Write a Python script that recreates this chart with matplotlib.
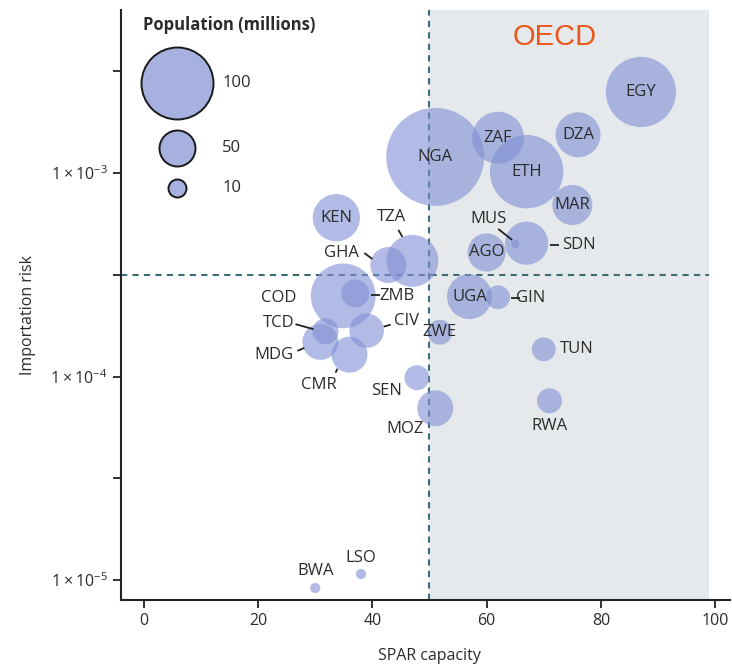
import numpy as np
import matplotlib
matplotlib.use("Agg")
import matplotlib.pyplot as plt
import matplotlib.transforms as mtransforms

plt.rcParams['font.family'] = ['Open Sans', 'DejaVu Sans']
plt.rcParams['mathtext.default'] = 'regular'

# country data
codes = ['EGY', 'DZA', 'ZAF', 'NGA', 'ETH', 'MAR', 'SDN', 'MUS', 'AGO', 'TZA',
         'UGA', 'GIN', 'KEN', 'GHA', 'COD', 'ZMB', 'CIV', 'TCD', 'MDG', 'CMR',
         'ZWE', 'SEN', 'MOZ', 'TUN', 'RWA', 'LSO', 'BWA']
spar = [87, 76, 62, 51, 67, 75, 67, 65, 60, 47,
        57, 62, 33.7, 42.8, 34.9, 37, 39, 31.8, 30.9, 36,
        51.8, 47.8, 51, 70, 71, 38, 30]
risk = [2.50e-3, 1.54e-3, 1.49e-3, 1.20e-3, 1.015e-3, 6.96e-4, 4.52e-4, 4.48e-4, 4.07e-4, 3.70e-4,
        2.47e-4, 2.45e-4, 6.03e-4, 3.53e-4, 2.49e-4, 2.56e-4, 1.68e-4, 1.67e-4, 1.48e-4, 1.28e-4,
        1.65e-4, 9.87e-5, 6.98e-5, 1.36e-4, 7.6e-5, 1.07e-5, 9.14e-6]
population = [95, 39, 52, 185, 104, 31, 36, 1.3, 28, 52,
              39, 11, 43, 25, 81, 15, 23, 13, 25, 25,
              12, 12, 25, 11, 12, 2, 2]

legend_vals = [100, 50, 10]

spar_threshold = 50
risk_threshold = 10 ** -3.5

# label offsets in pixels from bubble centre (image coords, y down)
label_off = {
    'TZA': (-21, -44), 'GHA': (-47, -12), 'MUS': (-27, -25), 'SDN': (52, 2),
    'GIN': (33, 1), 'ZMB': (42, 3), 'CIV': (40, -10), 'COD': (-65, 2),
    'TCD': (-47, -8), 'MDG': (-46, 13), 'CMR': (-31, 30), 'SEN': (-30, 13),
    'MOZ': (-30, 21), 'TUN': (33, 0), 'RWA': (0, 25), 'LSO': (0, -16),
    'BWA': (0, -17),
}
leaders = {
    'TZA': ((-14, -31), (-10, -24)), 'GHA': ((-24, -12), (-16, -6)),
    'MUS': ((-17, -15), (-3, -4)), 'SDN': ((23, 2), (32, 2)),
    'GIN': ((13, 1), (22, 1)), 'ZMB': ((16, 2), (25, 2)),
    'CIV': ((17, -4), (24, -6)), 'TCD': ((-30, -7), (-12, -2)),
    'MDG': ((-23, 9), (-16, 6)), 'CMR': ((-14, 18), (-12, 14)),
}

bubble_color = '#7f8fd4'
text_color = '#2b2b2b'
size_per_million = 26.9   # scatter area (pt^2) per million people

fig = plt.figure(figsize=(7.32, 6.68), dpi=100)
ax = fig.add_axes([121 / 732, 68 / 668, 609 / 732, 590 / 668])

ax.axvspan(spar_threshold, 99, color='#e5e9eb', zorder=0, lw=0)
ax.axvline(spar_threshold, color='#3d6c78', lw=1.5, ls=(0, (3, 2.5)), zorder=1)
ax.plot([-4, 99], [risk_threshold, risk_threshold], color='#3d6c78', lw=1.5,
        ls=(0, (3, 2.5)), zorder=1)

sizes = np.array(population) * size_per_million
ax.scatter(spar, risk, s=sizes, color=bubble_color, alpha=0.6, lw=0, zorder=2)

for code, x, y in zip(codes, spar, risk):
    dx, dy = label_off.get(code, (0, 0))
    ax.annotate(code, xy=(x, y), xytext=(dx, -dy), textcoords='offset pixels',
                ha='center', va='center', fontsize=12, color=text_color, zorder=4)
    if code in leaders:
        (x1, y1), (x2, y2) = leaders[code]
        trans = mtransforms.ScaledTranslation(x, y, ax.transData)
        ax.plot([x1, x2], [-y1, -y2], color='#222222', lw=1.3,
                transform=trans, zorder=4, solid_capstyle='butt')

ax.set_yscale('log')
ax.set_xlim(-4, 102.6)
ax.set_ylim(7.98e-6, 6.32e-3)

ax.set_xticks([0, 20, 40, 60, 80, 100])
ax.set_yticks([1e-5, 10 ** -4.5, 1e-4, 10 ** -3.5, 1e-3, 10 ** -2.5])
ax.set_yticklabels([r'$1\times10^{-5}$', '', r'$1\times10^{-4}$', '', r'$1\times10^{-3}$', ''])
ax.yaxis.set_minor_locator(matplotlib.ticker.NullLocator())
ax.tick_params(direction='out', length=6, width=1.3, colors='#222222',
               labelsize=11.5, labelcolor=text_color)

for side in ['top', 'right']:
    ax.spines[side].set_visible(False)
for side in ['left', 'bottom']:
    ax.spines[side].set_linewidth(1.5)
    ax.spines[side].set_color('#222222')

ax.set_xlabel('SPAR capacity', fontsize=11.5, color=text_color)
ax.set_ylabel('Importation risk', fontsize=11.5, color=text_color)
ax.xaxis.set_label_coords(0.507, -0.081)
ax.yaxis.set_label_coords(-0.1396, 0.483)

ax.text(0.7126, 0.955, 'OECD', transform=ax.transAxes, ha='center', va='center',
        fontsize=21, color='#e8581c', family=['Liberation Sans', 'DejaVu Sans'])

# size legend
legend_radius_px = [36, 18, 9]
legend_y = [0.877, 0.766, 0.698]
ax.text(0.036, 0.975, 'Population (millions)', transform=ax.transAxes,
        ha='left', va='center', fontsize=12, fontweight='bold', color=text_color)
for val, r, ly in zip(legend_vals, legend_radius_px, legend_y):
    ax.scatter([0.092], [ly], s=(1.44 * r) ** 2, transform=ax.transAxes,
               color='#a6b1e0', edgecolor='#1a1a1a', lw=1.4, zorder=5, clip_on=False)
    ax.text(0.166, ly, str(val), transform=ax.transAxes, ha='left', va='center',
            fontsize=12, color=text_color)

fig.savefig('out.png', dpi=100)
